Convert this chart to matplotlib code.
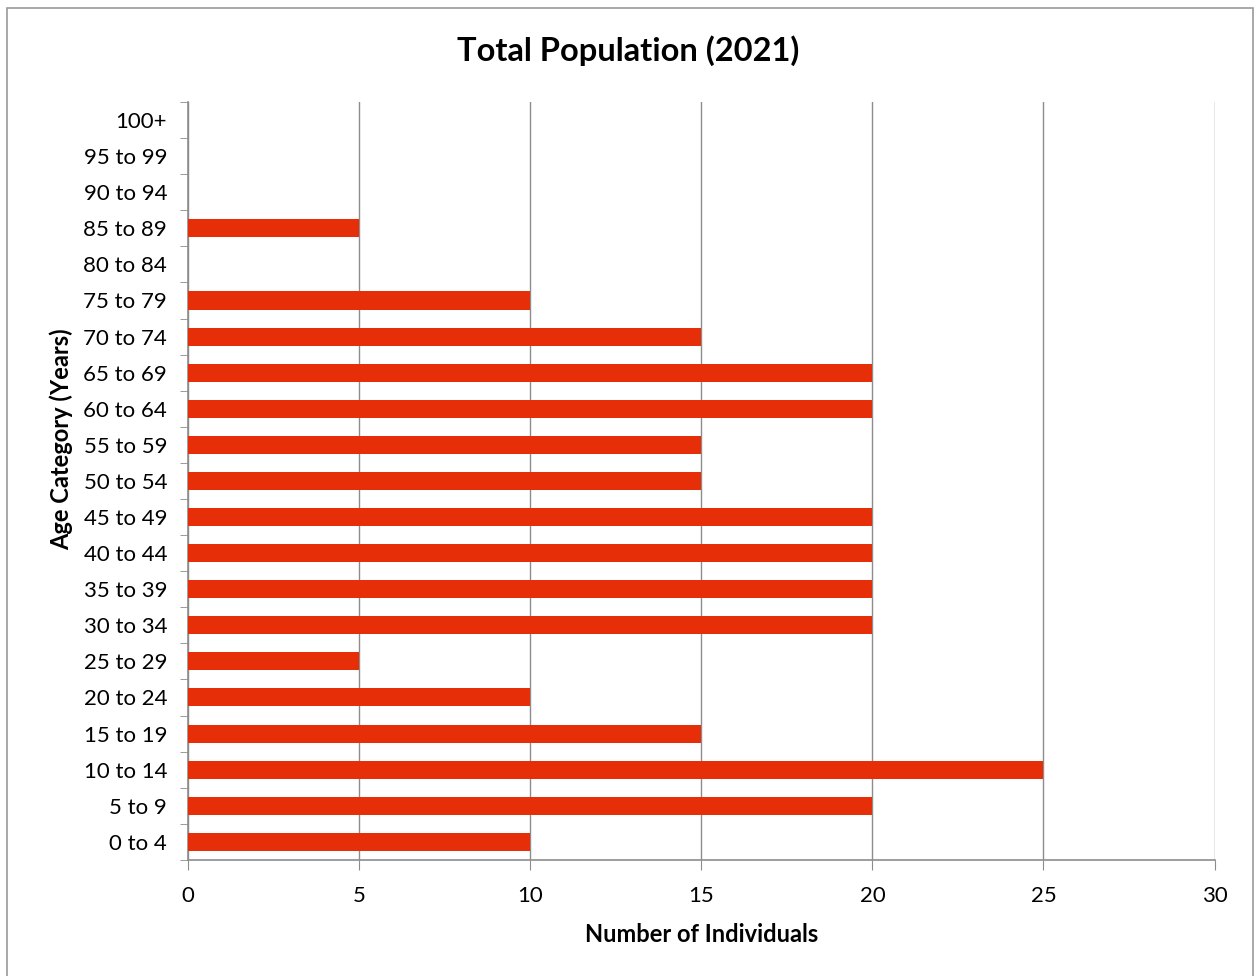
import matplotlib
matplotlib.use("Agg")
import matplotlib.pyplot as plt
from matplotlib.patches import Rectangle
import numpy as np

categories = ["0 to 4", "5 to 9", "10 to 14", "15 to 19", "20 to 24", "25 to 29",
              "30 to 34", "35 to 39", "40 to 44", "45 to 49", "50 to 54", "55 to 59",
              "60 to 64", "65 to 69", "70 to 74", "75 to 79", "80 to 84", "85 to 89",
              "90 to 94", "95 to 99", "100+"]
counts = [10, 20, 25, 15, 10, 5, 20, 20, 20, 20, 15, 15, 20, 20, 15, 10, 0, 5, 0, 0, 0]
xticks = [0, 5, 10, 15, 20, 25, 30]

BAR = "#e62e08"
GRID = "#8c8c8c"

plt.rcParams["font.family"] = ["Lato", "DejaVu Sans"]

fig = plt.figure(figsize=(12.56, 9.76), dpi=100)
ax = fig.add_axes([0.1497, 0.119, 0.8173, 0.7765])

y = np.arange(len(categories))
ax.barh(y, counts, height=0.5, color=BAR, zorder=3)

ax.set_xlim(0, 30)
ax.set_ylim(-0.5, len(categories) - 0.5)
ax.set_xticks(xticks)
ax.set_xticklabels([str(v) for v in xticks], fontsize=16)
ax.set_yticks(y)
ax.set_yticklabels(categories, fontsize=16)
ax.tick_params(axis="y", length=0, pad=15)
ax.set_yticks(np.arange(-0.5, len(categories), 1), minor=True)
ax.tick_params(axis="y", which="minor", length=6, color=GRID, direction="out")
ax.tick_params(axis="x", length=7, color=GRID, pad=12)

ax.grid(True, axis="x", color=GRID, lw=1, zorder=0)
for s in ["top", "right"]:
    ax.spines[s].set_visible(False)
for s in ["left", "bottom"]:
    ax.spines[s].set_color(GRID)
    ax.spines[s].set_linewidth(1.2)

ax.set_xlabel("Number of Individuals", fontsize=17, fontweight="bold", labelpad=12)
ax.set_ylabel("Age Category (Years)", fontsize=17, fontweight="bold")
ax.yaxis.set_label_coords(-0.112, 0.555)
fig.suptitle("Total Population (2021)", fontsize=23.5, fontweight="bold", y=0.964)

fig.patches.append(Rectangle((7 / 1256, -0.05), 1246 / 1256, 1 - 8 / 976 + 0.05,
                             transform=fig.transFigure, fill=False,
                             edgecolor="#9a9a9a", lw=1.2))

fig.savefig("out.png", dpi=100)
